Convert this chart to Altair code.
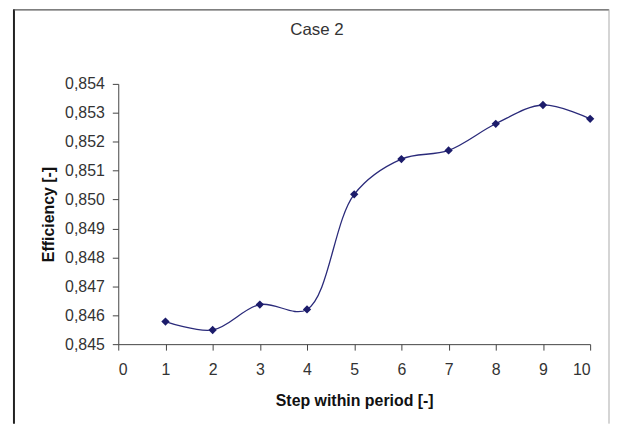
import altair as alt
import pandas as pd

title_text = "Case 2"
steps = [1, 2, 3, 4, 5, 6, 7, 8, 9, 10]
efficiency = [0.84578, 0.84549, 0.84637, 0.84620, 0.85018,
              0.85140, 0.85170, 0.85262, 0.85327, 0.85279]
y_ticks = [0.845, 0.846, 0.847, 0.848, 0.849, 0.850, 0.851, 0.852, 0.853, 0.854]
x_ticks = [0, 1, 2, 3, 4, 5, 6, 7, 8, 9, 10]

df = pd.DataFrame({"step": steps, "eff": efficiency})

FONT = "Liberation Sans"
W, H = 475, 262

x_enc = alt.X("step:Q", scale=alt.Scale(domain=[0, 10], nice=False, zero=False),
              axis=alt.Axis(values=x_ticks, title="Step within period [-]", grid=False,
                            labelOverlap=False,
                            tickSize=6, labelPadding=12, labelFontSize=16,
                            labelColor="#333333", labelFont=FONT,
                            titleFont=FONT, titleFontSize=16, titleFontWeight="bold",
                            titleColor="#111111", titlePadding=15,
                            domainColor="#444444", tickColor="#444444"))
y_enc = alt.Y("eff:Q", scale=alt.Scale(domain=[0.845, 0.854], nice=False, zero=False),
              axis=alt.Axis(values=y_ticks, title="Efficiency [-]", grid=False,
                            labelOverlap=False,
                            labelExpr="replace(format(datum.value, '.3f'), '.', ',')",
                            tickSize=6, labelPadding=8, labelFontSize=16,
                            labelColor="#333333", labelFont=FONT,
                            titleFont=FONT, titleFontSize=16, titleFontWeight="bold",
                            titleColor="#111111", titlePadding=8,
                            domainColor="#444444", tickColor="#444444"))

base = alt.Chart(df)
line = base.mark_line(interpolate="catmull-rom", color="#2a2a7a", strokeWidth=1.3).encode(x=x_enc, y=y_enc)
pts = base.mark_point(shape="diamond", filled=True, color="#1c1c6b", size=70, opacity=1).encode(x=x_enc, y=y_enc)

one = alt.Chart(pd.DataFrame({"t": [title_text]}))
left_b = one.mark_rule(color="#222222", strokeWidth=2).encode(
    x=alt.value(-105), y=alt.value(-75), y2=alt.value(H + 80))
top_b = one.mark_rule(color="#555555", strokeWidth=1.5).encode(
    x=alt.value(-105), x2=alt.value(494), y=alt.value(-74.5))
right_b = one.mark_rule(color="#aaaaaa", strokeWidth=1).encode(
    x=alt.value(494), y=alt.value(-75), y2=alt.value(H + 80))
title = one.mark_text(font=FONT, fontSize=17, color="#333333", align="center",
                      baseline="middle").encode(
    x=alt.value(200), y=alt.value(-54), text="t:N")

chart = alt.layer(left_b, top_b, right_b, title, line, pts).properties(
    width=W, height=H,
    autosize=alt.AutoSizeParams(type="none"),
    padding={"left": 111, "top": 75, "right": 21, "bottom": 80},
    background="white",
).configure_view(stroke=None)

chart.save("out.html", embed_options={"renderer": "svg", "actions": False})
